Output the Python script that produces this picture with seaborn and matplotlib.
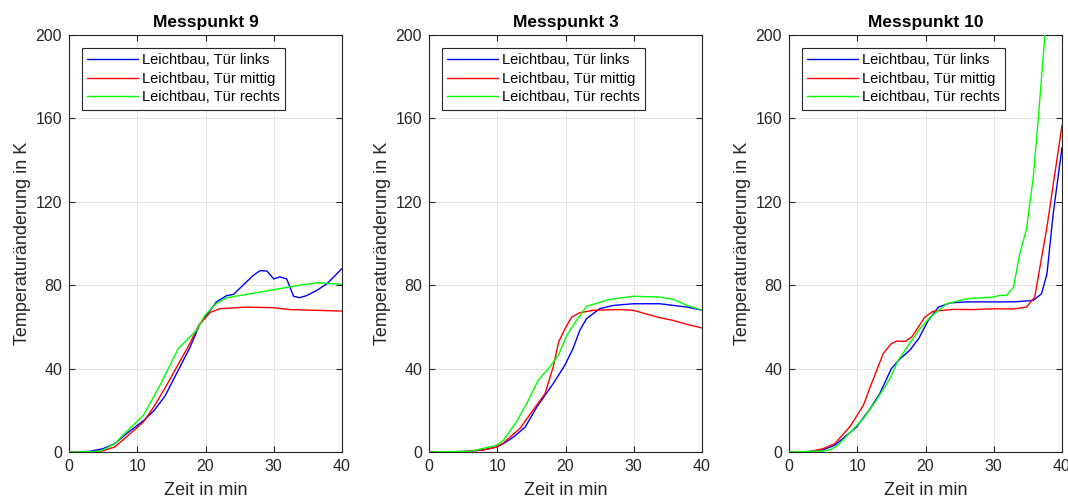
import matplotlib
matplotlib.use("Agg")
import matplotlib.pyplot as plt
import numpy as np
import pandas as pd
import seaborn as sns

# Messpunkt 9
mp9_links_t = [0, 3, 5, 6.7, 8.5, 10.9, 12.5, 14.1, 15.5, 17.7, 19.2, 20.5, 21.6, 23.1, 24.1,
               25.5, 27, 28, 29, 30, 30.9, 31.9, 32.9, 33.8, 34.8, 36.3, 37.8, 40]
mp9_links_y = [0, 0.3, 1.6, 4, 9, 15, 20, 27, 36, 50, 61.5, 67, 72, 75, 75.6,
               80, 84.7, 87, 86.8, 83, 84, 83, 74.7, 74, 75, 77.5, 80.7, 88]
mp9_mittig_t = [0, 3, 5, 6.7, 8.5, 10.9, 12.5, 14.3, 16, 17.7, 19, 20.7, 22.1, 26, 30, 32.4, 40]
mp9_mittig_y = [0, 0, 0.6, 2.4, 7.5, 14.4, 22, 32, 42, 52, 60.7, 67, 68.7, 69.5, 69.2, 68.3, 67.6]
mp9_rechts_t = [0, 4, 5, 6.7, 8.5, 10.9, 13.5, 16, 18.7, 19.9, 21.5, 23.1, 28, 32.9, 36.3, 40]
mp9_rechts_y = [0, 0.2, 1, 4, 10, 17.6, 33, 49.6, 58.4, 65.5, 71, 74, 76.7, 79.5, 81.2, 80.4]

# Messpunkt 3
mp3_links_t = [0, 5, 8, 9.9, 10.9, 12.4, 14.1, 15.8, 18.2, 19.9, 21.1, 22.1, 23.1, 25, 27,
               29.9, 33.8, 35.8, 37.8, 40]
mp3_links_y = [0, 0.2, 1, 2.4, 4, 7.2, 12, 21.6, 32.8, 41.6, 49.6, 58.4, 64, 68.7, 70.3,
               71.1, 71.1, 70.3, 69.5, 68]
mp3_mittig_t = [0, 5, 8, 9.9, 10.9, 13.3, 17, 18.2, 19, 19.9, 20.9, 22.1, 24.1, 28, 29.9,
                33.8, 35.8, 37.8, 40]
mp3_mittig_y = [0, 0.2, 1, 2.4, 4.3, 11.2, 28, 40.8, 52.8, 59, 64.7, 66.8, 68, 68.3, 68,
                64.4, 63.1, 61.2, 59.5]
mp3_rechts_t = [0, 6, 9.9, 10.9, 12.8, 14.3, 16, 17.7, 19, 20.2, 21.6, 23.1, 26.5, 29.9,
                33.8, 35.8, 37.8, 40]
mp3_rechts_y = [0, 0.3, 3.2, 5.6, 14.4, 23.2, 34.4, 40.8, 46.7, 56, 63.1, 69.9, 73.2, 74.7,
                74.3, 73.2, 70.3, 68]

# Messpunkt 10
mp10_links_t = [0, 3, 5, 6.7, 9.9, 11.9, 13.3, 15, 16.3, 17.7, 19, 20.4, 21.9, 23.6, 26,
                29.9, 32.9, 35.8, 37, 37.8, 38.7, 40]
mp10_links_y = [0, 0.2, 1.1, 3.2, 12, 20.8, 28, 40, 44.8, 48.8, 54.4, 63.1, 69.5, 71.5, 72,
                72, 72, 72.7, 75.9, 85.5, 114, 146]
mp10_mittig_t = [0, 3, 5, 6.7, 8.9, 10.9, 11.9, 13.8, 15, 15.8, 17, 18, 19.9, 21.1, 24.1,
                 27, 29.9, 32.9, 34.8, 36, 37.8, 40]
mp10_mittig_y = [0, 0.2, 1.6, 4, 12, 22.4, 31.2, 47.2, 52, 53.2, 53, 55.2, 64.7, 67.5, 68.4,
                 68.3, 68.7, 68.6, 69.5, 74.3, 108, 156.7]
mp10_rechts_t = [0, 5, 6, 7, 10.9, 12.8, 14.8, 16, 17, 19.2, 20.7, 23.1, 26, 29.9, 30.9,
                 31.9, 32.9, 33.8, 34.8, 35.8, 36.5, 37.5, 38]
mp10_rechts_y = [0, 0.5, 1.1, 2.7, 16, 24.8, 35.2, 44, 48.8, 59.2, 64.7, 71.1, 73.5, 74.3,
                 75.1, 75.1, 79.1, 95, 107, 132, 159, 200, 220]

series_names = ["Leichtbau, Tür links", "Leichtbau, Tür mittig", "Leichtbau, Tür rechts"]
panel_titles = ["Messpunkt 9", "Messpunkt 3", "Messpunkt 10"]
x_ticks = [0, 10, 20, 30, 40]
y_ticks = [0, 40, 80, 120, 160, 200]

panels = [
    [(mp9_links_t, mp9_links_y), (mp9_mittig_t, mp9_mittig_y), (mp9_rechts_t, mp9_rechts_y)],
    [(mp3_links_t, mp3_links_y), (mp3_mittig_t, mp3_mittig_y), (mp3_rechts_t, mp3_rechts_y)],
    [(mp10_links_t, mp10_links_y), (mp10_mittig_t, mp10_mittig_y), (mp10_rechts_t, mp10_rechts_y)],
]

sns.set_theme(style="white")
plt.rcParams["font.family"] = ["Liberation Sans", "DejaVu Sans"]
palette = {series_names[0]: (0, 0, 1), series_names[1]: (1, 0, 0), series_names[2]: (0, 1, 0)}
dark = "#262626"

fig = plt.figure(figsize=(10.68, 5.0), dpi=100)
lefts = [69, 429, 789]
for i, (title, data) in enumerate(zip(panel_titles, panels)):
    ax = fig.add_axes([lefts[i] / 1068, 48 / 500, 273 / 1068, 417 / 500])
    rows = []
    for name, (t, y) in zip(series_names, data):
        for tt, yy in zip(t, y):
            rows.append({"Zeit": tt, "Wert": yy, "Reihe": name})
    df = pd.DataFrame(rows)
    sns.lineplot(data=df, x="Zeit", y="Wert", hue="Reihe", palette=palette,
                 hue_order=series_names, estimator=None, sort=False,
                 linewidth=1.0, ax=ax, zorder=3)
    ax.set_xlim(0, 40)
    ax.set_ylim(0, 200)
    ax.set_xticks(x_ticks)
    ax.set_yticks(y_ticks)
    ax.grid(True, color="#e3e3e3", linewidth=0.8, zorder=0)
    ax.set_axisbelow(True)
    ax.tick_params(direction="in", length=4, width=0.8, colors=dark, labelsize=11.5,
                   top=True, right=True, bottom=True, left=True, pad=5)
    for sp in ax.spines.values():
        sp.set_color(dark)
        sp.set_linewidth(0.8)
    ax.set_xlabel("Zeit in min", fontsize=13, color=dark, labelpad=6)
    ax.set_ylabel("Temperaturänderung in K", fontsize=13, color=dark, labelpad=3)
    ax.set_title(title, fontsize=12.5, fontweight="bold", color="black", pad=6)
    leg = ax.legend(loc="upper left", bbox_to_anchor=(13 / 273, 1 - 13 / 417),
                    borderaxespad=0, fontsize=10.5, frameon=True, fancybox=False,
                    handlelength=3.5, handletextpad=0.27, labelspacing=0.32,
                    borderpad=0.35)
    leg.get_frame().set_edgecolor(dark)
    leg.get_frame().set_linewidth(0.8)
    leg.get_frame().set_alpha(1)
    for txt in leg.get_texts():
        txt.set_color("black")
    for line in leg.get_lines():
        line.set_linewidth(1.0)

fig.savefig("out.png", dpi=100)
